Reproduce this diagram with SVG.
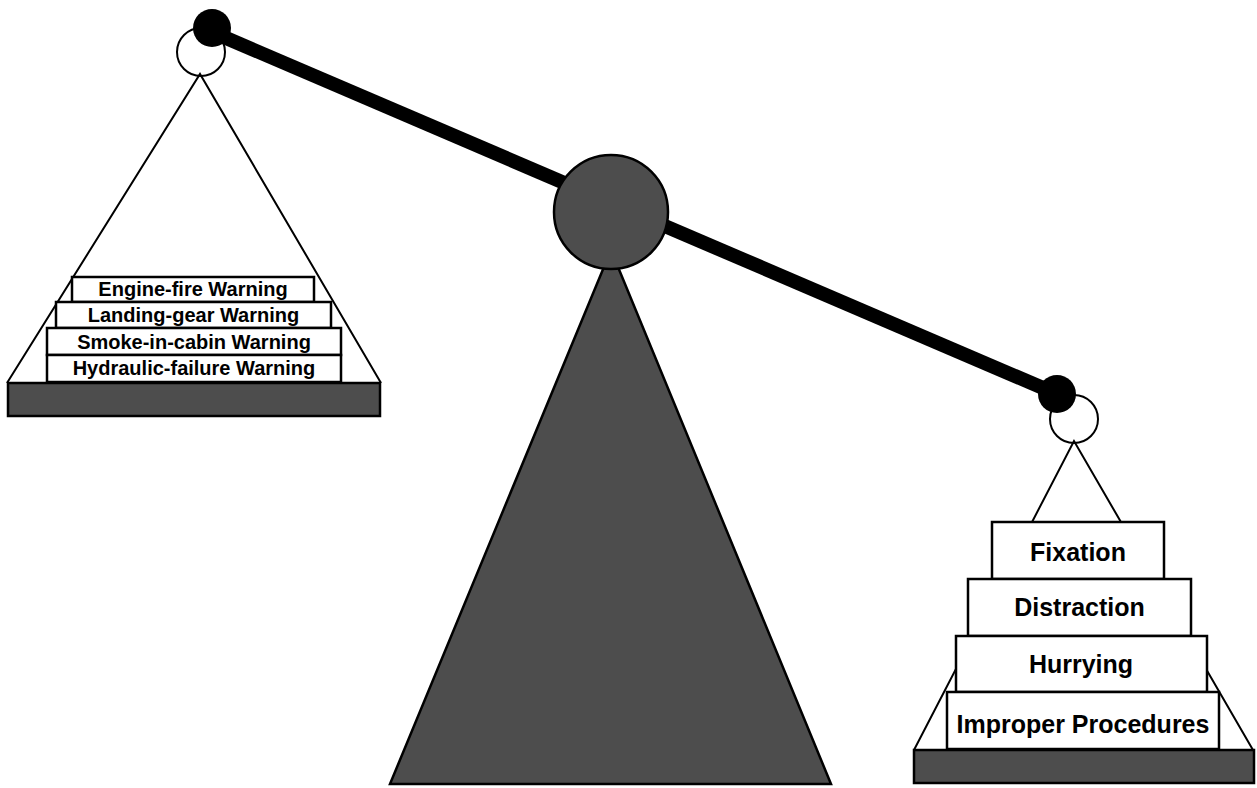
<svg xmlns="http://www.w3.org/2000/svg" width="1257" height="788" viewBox="0 0 1257 788">
<style>
.line{fill:none;stroke:#000;stroke-width:2}
.box{fill:#fff;stroke:#000;stroke-width:2.5}
.base{fill:#4d4d4d;stroke:#000;stroke-width:2.5}
.ring{fill:none;stroke:#000;stroke-width:2}
.ball{fill:#000}
.ls{font-family:"Liberation Sans",Arial,sans-serif;font-weight:bold;font-size:20px;text-anchor:middle;fill:#000}
.rs{font-family:"Liberation Sans",Arial,sans-serif;font-weight:bold;font-size:25px;text-anchor:middle;fill:#000}
</style>
<rect width="1257" height="788" fill="#fff"/>
<g id="fulcrum">
<polygon points="611,250 390,784 831,784" fill="#4d4d4d" stroke="#000" stroke-width="2.5"/>
</g>
<g id="connectors">
<line x1="212" y1="32" x2="1057" y2="394" stroke="#000" stroke-width="14"/>
<polyline class="line" points="7,383 200,74 381,383"/>
<polyline class="line" points="914,750 1074,441 1253,750"/>
</g>
<g id="pivot">
<circle cx="611" cy="212" r="57" fill="#4d4d4d" stroke="#000" stroke-width="2.5"/>
</g>
<g id="left-hanger">
<circle class="ring" cx="201" cy="52" r="24"/>
<circle class="ball" cx="212" cy="28" r="19"/>
</g>
<g id="right-hanger">
<circle class="ring" cx="1074" cy="419" r="24"/>
<circle class="ball" cx="1057" cy="394" r="19"/>
</g>
<g id="left-pan">
<rect class="base" x="8" y="383" width="372" height="33"/>
</g>
<g id="engine-fire">
<rect class="box" x="72" y="277" width="242" height="25"/>
<text class="ls" x="193" y="296">Engine-fire Warning</text>
</g>
<g id="landing-gear">
<rect class="box" x="56" y="302" width="275" height="26"/>
<text class="ls" x="193.5" y="321.5">Landing-gear Warning</text>
</g>
<g id="smoke-in-cabin">
<rect class="box" x="47" y="328" width="294" height="27"/>
<text class="ls" x="194" y="349">Smoke-in-cabin Warning</text>
</g>
<g id="hydraulic-failure">
<rect class="box" x="47" y="355" width="294" height="27"/>
<text class="ls" x="194" y="374.5">Hydraulic-failure Warning</text>
</g>
<g id="right-pan">
<rect class="base" x="914" y="750" width="340" height="33"/>
</g>
<g id="fixation">
<rect class="box" x="992" y="522" width="172" height="57"/>
<text class="rs" x="1078" y="560.5">Fixation</text>
</g>
<g id="distraction">
<rect class="box" x="968" y="579" width="223" height="57"/>
<text class="rs" x="1079.5" y="616">Distraction</text>
</g>
<g id="hurrying">
<rect class="box" x="956" y="636" width="251" height="56"/>
<text class="rs" x="1081" y="673">Hurrying</text>
</g>
<g id="improper-procedures">
<rect class="box" x="947" y="692" width="272" height="57"/>
<text class="rs" x="1083" y="733">Improper Procedures</text>
</g>
</svg>
